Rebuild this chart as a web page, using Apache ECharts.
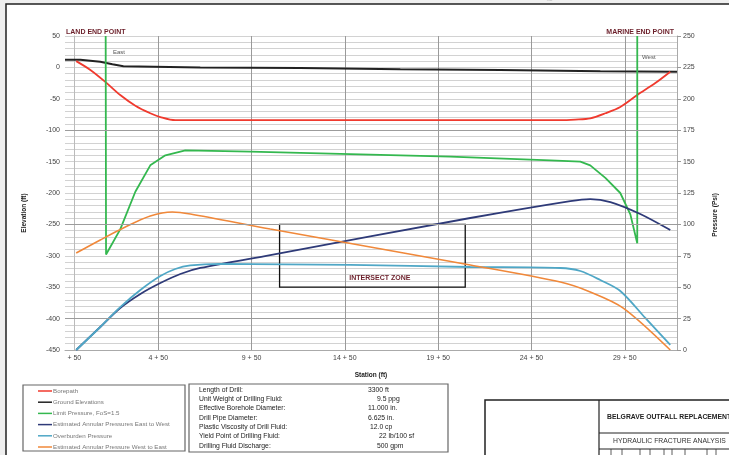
<!DOCTYPE html>
<html>
<head>
<meta charset="utf-8">
<script src="https://cdn.jsdelivr.net/npm/echarts@6/dist/echarts.min.js"></script>
<style>
html,body{margin:0;padding:0;background:#efefef;}
#c{width:729px;height:455px;}
</style>
</head>
<body>
<div id="c"></div>
<script>
// ---- data (station in ft, elevation in ft, pressure in psi) ----
const stationTicks = [0, 450, 950, 1450, 1950, 2450, 2950];
const stationLabels = ['+ 50', '4 + 50', '9 + 50', '14 + 50', '19 + 50', '24 + 50', '29 + 50'];

const borepathX = [10, 86, 166, 246, 327, 407, 461, 541, 2605, 2685, 2765, 2846, 2926, 3017, 3114, 3194];
const borepathY = [10, -4, -23, -44, -61, -73, -79, -84, -84, -83, -81, -73, -63, -44, -25, -7];

const groundX = [-50, 32, 139, 204, 263, 675, 1211, 1747, 2283, 2819, 3230];
const groundY = [12, 12, 9, 5, 2, 0, -1, -3, -4, -6, -7];

const limitX = [168, 170, 246, 327, 407, 488, 595, 943, 1479, 2015, 2551, 2712, 2765, 2846, 2926, 2980, 3017, 3017];
const limitY = [250, 76, 96, 126, 147, 155, 159, 158, 156, 154, 151, 150, 147, 137, 125, 108, 85, 250];

const eastWestX = [10, 139, 246, 354, 461, 568, 675, 1050, 2122, 2658, 2765, 2873, 3033, 3194];
const eastWestY = [0, 18.3, 33.4, 44.6, 53.3, 60.5, 65.3, 75.6, 105.1, 118.6, 120.2, 117.8, 108.3, 95.5];

const overburdenX = [10, 139, 246, 354, 461, 541, 622, 782, 1479, 2122, 2605, 2712, 2819, 2926, 3060, 3194];
const overburdenY = [0, 18.3, 34.2, 47.8, 58.9, 64.5, 67.3, 68.5, 67.7, 66.1, 65.3, 62.9, 55.7, 47, 25.5, 4];

const westEastX = [10, 139, 273, 407, 525, 622, 1050, 2122, 2605, 2765, 2942, 3194];
const westEastY = [77.2, 87.6, 97.9, 106.7, 109.9, 108.3, 96.3, 67.7, 54.1, 46.2, 33.4, 0];

const intersectZone = {x: [1100, 2095], elev: [-250, -350]};
const darkElevLines = [-400, -250, -100];

const infoLabels = ['Length of Drill:', 'Unit Weight of Drilling Fluid:', 'Effective Borehole Diameter:', 'Drill Pipe Diameter:', 'Plastic Viscosity of Drill Fluid:', 'Yield Point of Drilling Fluid:', 'Drilling Fluid Discharge:'];
const infoValues = ['3300 ft', '9.5 ppg', '11.000 in.', '6.625 in.', '12.0 cp', '22 lb/100 sf', '500 gpm'];
const infoValueX = [368, 377, 368, 368, 370, 379, 377];

const names = ['Borepath', 'Ground Elevations', 'Limit Pressure, FoS=1.5', 'Estimated Annular Pressures East to West', 'Overburden Pressure', 'Estimated Annular Pressure West to East'];

function pairs(xs, ys) { return xs.map((x, i) => [x, ys[i]]); }

const FONT = '"Liberation Sans", Arial, sans-serif';
const chart = echarts.init(document.getElementById('c'), null, {renderer: 'canvas'});

const graphic = [
  {type: 'text', z: -20, left: 503, top: -13, style: {text: 'the Belgrave', fill: '#c4c4c4', font: '15px "Liberation Serif", serif'}},
  {type: 'rect', z: -10, shape: {x: 6, y: 4, width: 740, height: 470}, style: {fill: '#ffffff', stroke: '#222', lineWidth: 1.5}},
  {type: 'text', z: 10, x: 66, y: 32, style: {text: 'LAND END POINT', fill: '#6b1f2a', font: 'bold 7px ' + FONT, textAlign: 'left', textVerticalAlign: 'middle'}},
  {type: 'text', z: 10, x: 674, y: 32, style: {text: 'MARINE END POINT', fill: '#6b1f2a', font: 'bold 7px ' + FONT, textAlign: 'right', textVerticalAlign: 'middle'}},
  {type: 'text', z: 10, x: 113, y: 52, style: {text: 'East', fill: '#555', font: '6px ' + FONT, textVerticalAlign: 'middle'}},
  {type: 'text', z: 10, x: 642, y: 57, style: {text: 'West', fill: '#555', font: '6px ' + FONT, textVerticalAlign: 'middle'}},
  {type: 'text', z: 10, x: 24, y: 213, rotation: Math.PI / 2, style: {text: 'Elevation (ft)', fill: '#222', font: 'bold 6.5px ' + FONT, textAlign: 'center', textVerticalAlign: 'middle'}},
  {type: 'text', z: 10, x: 715, y: 215, rotation: Math.PI / 2, style: {text: 'Pressure (Psi)', fill: '#222', font: 'bold 6.5px ' + FONT, textAlign: 'center', textVerticalAlign: 'middle'}},
  // legend box
  {type: 'rect', z: 5, shape: {x: 23, y: 385, width: 162, height: 66}, style: {fill: 'none', stroke: '#666', lineWidth: 1.2}},
  // info box
  {type: 'rect', z: 5, shape: {x: 189, y: 384, width: 259, height: 68}, style: {fill: 'none', stroke: '#666', lineWidth: 1.2}},
  // title block
  {type: 'rect', z: 5, shape: {x: 485, y: 400, width: 270, height: 70}, style: {fill: 'none', stroke: '#222', lineWidth: 1.5}},
  {type: 'line', z: 5, shape: {x1: 599, y1: 400, x2: 599, y2: 460}, style: {stroke: '#222', lineWidth: 1.2}},
  {type: 'line', z: 5, shape: {x1: 599, y1: 433, x2: 740, y2: 433}, style: {stroke: '#222', lineWidth: 1}},
  {type: 'line', z: 5, shape: {x1: 599, y1: 449, x2: 740, y2: 449}, style: {stroke: '#222', lineWidth: 1}},
  {type: 'text', z: 10, x: 607, y: 417, style: {text: 'BELGRAVE OUTFALL REPLACEMENT', fill: '#222', font: 'bold 6.8px ' + FONT, textVerticalAlign: 'middle'}},
  {type: 'text', z: 10, x: 613, y: 441, style: {text: 'HYDRAULIC FRACTURE ANALYSIS', fill: '#333', font: '6.8px ' + FONT, textVerticalAlign: 'middle'}}
];
[611, 622, 640, 650, 664, 672, 685, 707, 716].forEach(x => {
  graphic.push({type: 'line', z: 5, shape: {x1: x, y1: 449, x2: x, y2: 458}, style: {stroke: '#333', lineWidth: 0.8}});
});
infoLabels.forEach((t, i) => {
  const y = 390 + i * 9.3;
  graphic.push({type: 'text', z: 10, x: 199, y: y, style: {text: t, fill: '#222', font: '6.8px ' + FONT, textVerticalAlign: 'middle'}});
  graphic.push({type: 'text', z: 10, x: infoValueX[i], y: y, style: {text: infoValues[i], fill: '#222', font: '6.8px ' + FONT, textVerticalAlign: 'middle'}});
});

const lineCommon = {type: 'line', showSymbol: false, symbol: 'none', silent: true, z: 3};

const option = {
  animation: false,
  backgroundColor: '#efefef',
  textStyle: {fontFamily: FONT},
  graphic: graphic,
  legend: {
    orient: 'vertical', left: 38, top: 387, icon: 'rect', itemWidth: 14, itemHeight: 1.5, itemGap: 3.2,
    padding: 0, height: 68,
    selectedMode: false, data: names,
    textStyle: {fontSize: 6.2, color: '#777', lineHeight: 8, fontFamily: FONT, padding: [0, 0, 0, -4]}
  },
  grid: {left: 65, right: 52, top: 36, bottom: 105},
  xAxis: {
    type: 'value', min: -50, max: 3230,
    name: 'Station (ft)', nameLocation: 'middle', nameGap: 22,
    nameTextStyle: {fontSize: 6.5, fontWeight: 'bold', color: '#222'},
    axisLine: {show: true, onZero: false, lineStyle: {color: '#aaa'}},
    axisTick: {show: false, customValues: stationTicks},
    axisLabel: {customValues: stationTicks, fontSize: 7, color: '#444', margin: 5,
      formatter: v => { const i = stationTicks.indexOf(v); return i >= 0 ? stationLabels[i] : ''; }},
    splitLine: {show: true, lineStyle: {color: '#9a9a9a', width: 1}}
  },
  yAxis: [
    {
      type: 'value', min: -450, max: 50, interval: 50,
      axisLine: {show: true, lineStyle: {color: '#bbb'}},
      axisTick: {show: false},
      axisLabel: {fontSize: 7, color: '#444', margin: 5},
      splitLine: {show: true, lineStyle: {color: '#d2d2d2', width: 1}},
      minorTick: {show: false, splitNumber: 5},
      minorSplitLine: {show: true, lineStyle: {color: '#d2d2d2', width: 1}}
    },
    {
      type: 'value', position: 'right', min: 0, max: 250, interval: 25,
      axisLine: {show: true, lineStyle: {color: '#aaa'}},
      axisTick: {show: true, length: 4, lineStyle: {color: '#999'}},
      axisLabel: {fontSize: 7, color: '#444', margin: 6},
      splitLine: {show: false}
    }
  ],
  series: [
    Object.assign({}, lineCommon, {name: names[0], yAxisIndex: 0, data: pairs(borepathX, borepathY), smooth: 0.3,
      lineStyle: {color: '#f03a2e', width: 1.8}, itemStyle: {color: '#f03a2e'}}),
    Object.assign({}, lineCommon, {name: names[1], yAxisIndex: 0, data: pairs(groundX, groundY), z: 2,
      lineStyle: {color: '#222222', width: 2}, itemStyle: {color: '#222222'},
      markLine: {silent: true, symbol: 'none', label: {show: false},
        lineStyle: {color: '#9c9c9c', width: 1, type: 'solid'},
        data: darkElevLines.map(v => ({yAxis: v}))},
      markArea: {silent: true,
        itemStyle: {color: 'rgba(0,0,0,0)', borderColor: '#111', borderWidth: 1.3},
        label: {show: true, position: ['54%', '84%'], align: 'center', verticalAlign: 'middle',
          color: '#6b1f2a', fontSize: 7, fontWeight: 'bold', fontFamily: FONT},
        data: [[{name: 'INTERSECT ZONE', xAxis: intersectZone.x[0], yAxis: intersectZone.elev[0]},
                {xAxis: intersectZone.x[1], yAxis: intersectZone.elev[1]}]]}
    }),
    Object.assign({}, lineCommon, {name: names[2], yAxisIndex: 1, data: pairs(limitX, limitY),
      lineStyle: {color: '#34b84f', width: 1.8}, itemStyle: {color: '#34b84f'}}),
    Object.assign({}, lineCommon, {name: names[3], yAxisIndex: 1, data: pairs(eastWestX, eastWestY), smooth: 0.3,
      lineStyle: {color: '#2e3a78', width: 1.8}, itemStyle: {color: '#2e3a78'}}),
    Object.assign({}, lineCommon, {name: names[4], yAxisIndex: 1, data: pairs(overburdenX, overburdenY), smooth: 0.3,
      lineStyle: {color: '#4fa7c6', width: 1.8}, itemStyle: {color: '#4fa7c6'}}),
    Object.assign({}, lineCommon, {name: names[5], yAxisIndex: 1, data: pairs(westEastX, westEastY), smooth: 0.3,
      lineStyle: {color: '#f0883a', width: 1.6}, itemStyle: {color: '#f0883a'}})
  ]
};
chart.setOption(option);
</script>
</body>
</html>
